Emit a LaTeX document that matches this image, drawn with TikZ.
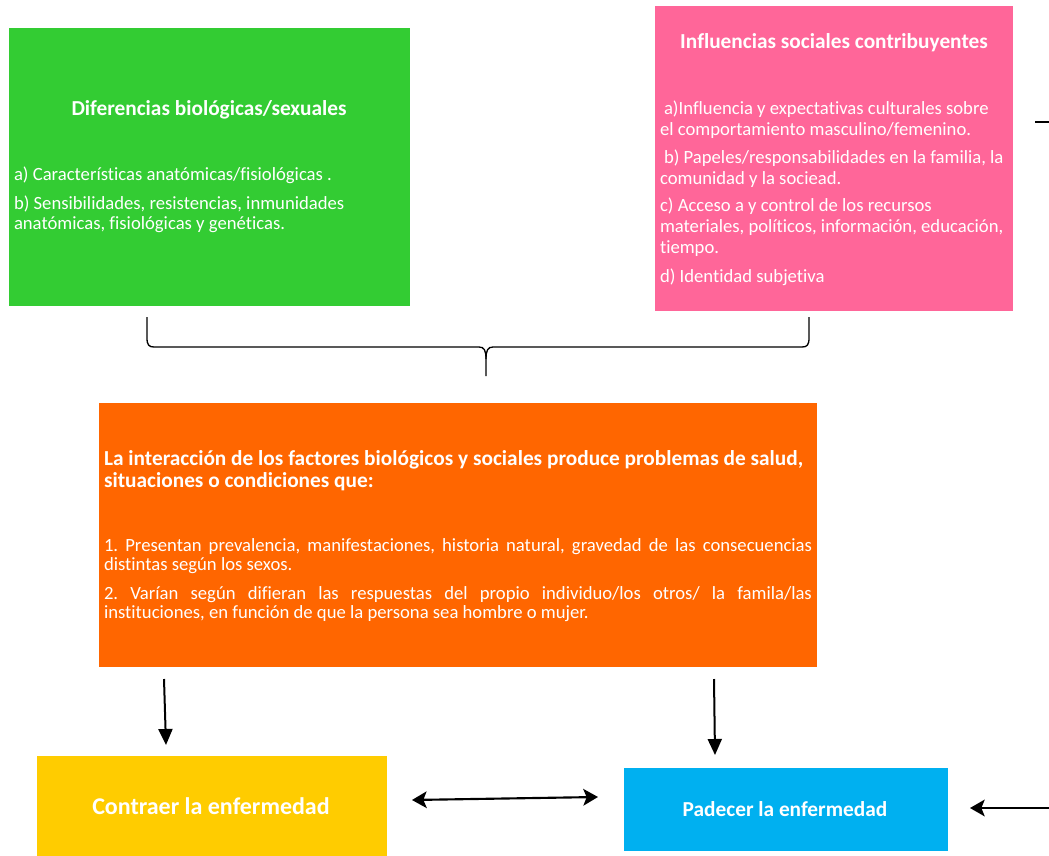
\documentclass[tikz,border=0pt]{standalone}
\usepackage{fontspec}
\setmainfont[Ligatures=NoCommon]{Carlito}
\usetikzlibrary{arrows.meta}
\definecolor{verde}{HTML}{33CC33}
\definecolor{rosa}{HTML}{FF6699}
\definecolor{naranja}{HTML}{FF6600}
\definecolor{amarillo}{HTML}{FFCC00}
\definecolor{celeste}{HTML}{00B0F0}
\frenchspacing
\begin{document}
\begin{tikzpicture}
    [x=0.75pt, y=-0.75pt,
    every node/.style={inner sep=0pt, outer sep=0pt, text=white},
    caja/.style={anchor=north west},
    titulo/.style={font=\bfseries\fontsize{16}{19}\selectfont},
    texto/.style={anchor=base west, align=left, font=\fontsize{14}{15.75}\selectfont},
    textob/.style={anchor=base west, align=left, font=\fontsize{14}{14.25}\selectfont},
    flecha/.style={-{Triangle[length=12pt,width=10.5pt]}, line width=1.5pt},
    punta/.tip={Stealth[length=11pt,width=12.5pt,inset=2.5pt]},
    flechab/.style={{punta}-{punta}, line width=1.6pt}]
    \useasboundingbox (0,0) rectangle (1049,856);
    % cajas
    \node[caja, fill=verde, minimum width=300.75pt, minimum height=208.5pt] (biologicas) at (9,28) {};
    \node[caja, fill=rosa, minimum width=268.5pt, minimum height=228.75pt] (sociales) at (655,6) {};
    \node[caja, fill=naranja, minimum width=538.5pt, minimum height=198pt] (interaccion) at (99,403) {};
    \node[caja, fill=amarillo, minimum width=262.5pt, minimum height=75pt] (contraer) at (37,756) {};
    \node[caja, fill=celeste, minimum width=243pt, minimum height=62.25pt] (padecer) at (624,768) {};
    % textos verdes
    \node[titulo] (bio-tit) at (209,110) {Diferencias biológicas/sexuales};
    \node[texto] (bio-a) at (14,180) {a) Características anatómicas/fisiológicas .};
    \node[texto, font=\fontsize{14}{15}\selectfont] (bio-b) at (14,229) {b) Sensibilidades, resistencias, inmunidades\\anatómicas, fisiológicas y genéticas.};
    % textos rosas
    \node[titulo] (soc-tit) at (834,43) {Influencias sociales contribuyentes};
    \node[texto] (soc-a) at (660,135) {\hspace{3pt}a)Influencia y expectativas culturales sobre\\el comportamiento masculino/femenino.};
    \node[texto] (soc-b) at (660,184) {\hspace{3pt}b) Papeles/responsabilidades en la familia, la\\comunidad y la sociead.};
    \node[texto] (soc-c) at (660,253) {c) Acceso a y control de los recursos\\materiales, políticos, información, educación,\\tiempo.};
    \node[texto] (soc-d) at (660,282) {d) Identidad subjetiva};
    % textos naranjas
    \node[texto, font=\bfseries\fontsize{16}{16.5}\selectfont] (int-tit) at (104,487) {La interacción de los factores biológicos y sociales produce problemas de salud,\\situaciones o condiciones que:};
    \node[textob] (int-1) at (104,570) {\makebox[531pt][s]{1. Presentan prevalencia, manifestaciones, historia natural, gravedad de las consecuencias}\\distintas según los sexos.};
    \node[textob] (int-2) at (104,618) {\makebox[531pt][s]{2. Varían según difieran las respuestas del propio individuo/los otros/ la famila/las}\\instituciones, en función de que la persona sea hombre o mujer.};
    \node[titulo, font=\bfseries\fontsize{18}{21}\selectfont] (con-tit) at (211,806) {Contraer la enfermedad};
    \node[titulo] (pad-tit) at (785,809) {Padecer la enfermedad};
    % llave
    \draw[line width=1pt] (147,317) -- (147,338) .. controls (147,345) and (149,347) .. (154,347)
        -- (479,347) .. controls (484,347) and (486,350) .. (486,359) -- (486,376);
    \draw[line width=1pt] (486,359) .. controls (486,350) and (488,347) .. (493,347)
        -- (802,347) .. controls (807,347) and (809,345) .. (809,338) -- (809,317);
    % flechas
    \coordinate (f1-ini) at (164,679);
    \coordinate (f1-fin) at (166,745);
    \coordinate (f2-ini) at (714,679);
    \coordinate (f2-fin) at (715,755);
    \coordinate (fb-i) at (412,800);
    \coordinate (fb-d) at (598,797);
    \coordinate (fd-ini) at (1049,808);
    \coordinate (fd-fin) at (970,808);
    \coordinate (st-ini) at (1035,122);
    \coordinate (st-fin) at (1049,122);
    \draw[flecha] (f1-ini) -- (f1-fin);
    \draw[flecha] (f2-ini) -- (f2-fin);
    \draw[flechab] (fb-i) -- (fb-d);
    \draw[line width=1.6pt, -{punta}] (fd-ini) -- (fd-fin);
    \draw[line width=1pt] (st-ini) -- (st-fin);
\end{tikzpicture}
\end{document}
